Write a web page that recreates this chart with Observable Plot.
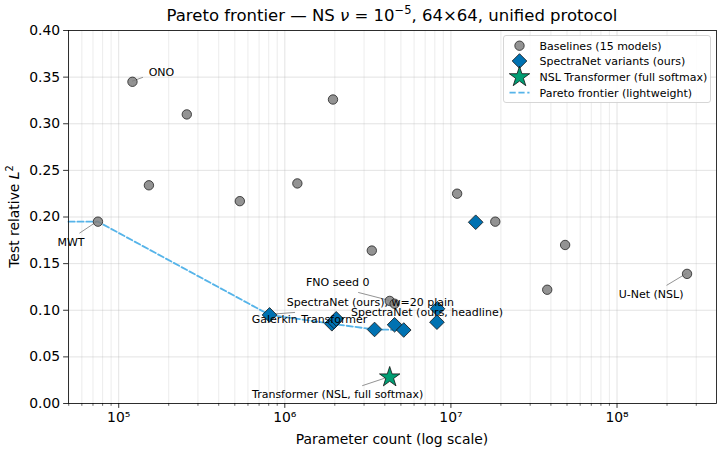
<!DOCTYPE html>
<html>
<head>
<meta charset="utf-8">
<script src="https://cdn.jsdelivr.net/npm/d3@7"></script>
<script src="https://cdn.jsdelivr.net/npm/@observablehq/plot@0.6"></script>
<style>
  html, body { margin: 0; padding: 0; background: #fff; }
  svg { display: block; }
</style>
</head>
<body>
<div id="chart"></div>
<script>
// Baseline models: parameter count and test relative L2 error
const baselineParams = [7.5e4, 1.21e5, 1.52e5, 2.57e5, 5.36e5, 1.19e6, 1.95e6, 3.34e6, 4.28e6, 4.58e6, 1.09e7, 1.85e7, 3.8e7, 4.87e7, 2.64e8];
const baselineError  = [0.195, 0.345, 0.234, 0.310, 0.217, 0.236, 0.326, 0.164, 0.110, 0.107, 0.225, 0.195, 0.122, 0.170, 0.139];

// SpectraNet variants
const spectraParams = [8.09e5, 1.92e6, 1.98e6, 2.04e6, 3.47e6, 4.58e6, 5.2e6, 8.3e6, 8.24e6, 1.41e7];
const spectraError  = [0.095, 0.0855, 0.088, 0.0908, 0.0794, 0.0844, 0.0788, 0.1016, 0.0872, 0.1944];

// NSL Transformer with full softmax attention
const transformerParams = [4.28e6];
const transformerError  = [0.0282];

// Point annotations: label, series and index of the annotated point
const annotationLabels = ["ONO", "MWT", "FNO seed 0", "SpectraNet (ours), w=20 plain", "SpectraNet (ours, headline)", "Galerkin Transformer", "U-Net (NSL)", "Transformer (NSL, full softmax)"];
const annotationSeries = ["baseline", "baseline", "baseline", "spectra", "spectra", "spectra", "baseline", "transformer"];
const annotationIndex  = [1, 0, 8, 7, 8, 0, 14, 0];

// Axis ticks
const xTickExponents = [5, 6, 7, 8];
const yTicks = [0, 0.05, 0.10, 0.15, 0.20, 0.25, 0.30, 0.35, 0.40];

// Legend entries
const legendLabels = ["Baselines (15 models)", "SpectraNet variants (ours)", "NSL Transformer (full softmax)", "Pareto frontier (lightweight)"];

// ---- layout / style (pixels) ----
// text offset [dx, dy] and leader end [lx, ly] relative to the annotated point
const labelLayout = {
  "ONO": [29, -9, 11, -4],
  "MWT": [-27, 21, -18, 12],
  "FNO seed 0": [-52, -18, -31, -8],
  "SpectraNet (ours), w=20 plain": [-67, -6, null, null],
  "SpectraNet (ours, headline)": [-10, -10, null, null],
  "Galerkin Transformer": [40, 5, 26, -2],
  "U-Net (NSL)": [-36, 21, -20, 12],
  "Transformer (NSL, full softmax)": [-52, 17, -27, 9]
};
const COLORS = { baseline: "#808080", spectra: "#0072B2", transformer: "#009E73", frontier: "#56B4E9" };
const FONT = "DejaVu Sans, Verdana, sans-serif";
const R = { baseline: 4.7, spectra: 6.6, transformer: 6.4 };
const DASH = "6.2,2.7";

const series = {
  baseline: baselineParams.map((p, i) => ({ p, e: baselineError[i] })),
  spectra: spectraParams.map((p, i) => ({ p, e: spectraError[i] })),
  transformer: transformerParams.map((p, i) => ({ p, e: transformerError[i] }))
};

// log-x domain with 5% padding on each side (in log space)
const allParams = [...baselineParams, ...spectraParams, ...transformerParams];
const lo = Math.log10(d3.min(allParams)), hi = Math.log10(d3.max(allParams));
const pad = 0.05 * (hi - lo);
const xDomain = [10 ** (lo - pad), 10 ** (hi + pad)];

// Pareto frontier over the lightweight models (baselines + SpectraNet)
const light = [...series.baseline, ...series.spectra].sort((a, b) => a.p - b.p);
let best = Infinity;
const frontier = light.filter(d => (d.e < best ? (best = d.e, true) : false));
frontier.unshift({ p: xDomain[0], e: frontier[0].e });

const majorTicks = xTickExponents.map(k => 10 ** k);
const minorTicks = [];
for (let k = 4; k <= 8; k++) for (let m = 2; m <= 9; m++) {
  const v = m * 10 ** k;
  if (v > xDomain[0] && v < xDomain[1]) minorTicks.push(v);
}
const supDigits = { "-": "⁻", "0": "⁰", "1": "¹", "2": "²", "3": "³", "4": "⁴", "5": "⁵", "6": "⁶", "7": "⁷", "8": "⁸", "9": "⁹" };
const powerLabel = v => "10" + String(Math.round(Math.log10(v))).split("").map(c => supDigits[c]).join("");

const annotations = annotationLabels.map((label, i) => ({ label, ...series[annotationSeries[i]][annotationIndex[i]] }));

const textMarks = annotations.map(a => Plot.text([a], {
  x: "p", y: "e", text: "label",
  dx: labelLayout[a.label][0], dy: labelLayout[a.label][1],
  fontSize: 11, fill: "#000", fontFamily: FONT
}));

const chart = Plot.plot({
  width: 723,
  height: 472,
  marginLeft: 68,
  marginRight: 7,
  marginTop: 30,
  marginBottom: 69,
  style: { fontFamily: FONT, fontSize: "13.9px", color: "#000", background: "#fff" },
  x: { type: "log", domain: xDomain },
  y: { domain: [0, 0.4] },
  marks: [
    Plot.gridX(minorTicks, { stroke: "#b0b0b0", strokeOpacity: 0.3, strokeWidth: 0.8 }),
    Plot.gridX(majorTicks, { stroke: "#b0b0b0", strokeOpacity: 0.45, strokeWidth: 0.8 }),
    Plot.gridY(yTicks, { stroke: "#b0b0b0", strokeOpacity: 0.45, strokeWidth: 0.8 }),
    Plot.axisX(minorTicks, { tickSize: 2.8, tickFormat: () => "", label: null, strokeWidth: 0.6 }),
    Plot.axisX(majorTicks, { tickSize: 4.9, tickPadding: 4, tickFormat: powerLabel, label: null, fontSize: 13.9, strokeWidth: 0.8 }),
    Plot.axisY(yTicks, { tickSize: 4.9, tickPadding: 3.5, tickFormat: d3.format(".2f"), label: null, fontSize: 13.9, strokeWidth: 0.8 }),
    Plot.line(frontier, { x: "p", y: "e", stroke: COLORS.frontier, strokeWidth: 1.8, strokeDasharray: DASH }),
    Plot.dot(series.baseline, { x: "p", y: "e", r: R.baseline, fill: COLORS.baseline, fillOpacity: 0.85, stroke: "#222", strokeWidth: 0.8 }),
    Plot.dot(series.spectra, { x: "p", y: "e", symbol: "diamond2", r: R.spectra, fill: COLORS.spectra, stroke: "#111", strokeWidth: 0.8 }),
    Plot.dot(series.transformer, { x: "p", y: "e", symbol: "star", r: R.transformer, fill: COLORS.transformer, stroke: "#111", strokeWidth: 0.8 }),
    ...textMarks,
    Plot.frame({ stroke: "#000", strokeWidth: 0.8 })
  ]
});

document.getElementById("chart").appendChild(chart);

const svg = d3.select(chart);
const sx = chart.scale("x"), sy = chart.scale("y");

// leader lines from annotated points toward their labels, under the markers
const leaders = svg.insert("g", "g[aria-label='dot']").attr("stroke", "#777").attr("stroke-width", 0.8);
annotations.forEach(a => {
  const [, , lx, ly] = labelLayout[a.label];
  if (lx == null) return;
  const x0 = sx.apply(a.p), y0 = sy.apply(a.e);
  leaders.append("line").attr("x1", x0).attr("y1", y0).attr("x2", x0 + lx).attr("y2", y0 + ly);
});

// title
const title = svg.append("text")
  .attr("x", (68 + 716) / 2).attr("y", 20.5)
  .attr("text-anchor", "middle").attr("font-size", 16.5).attr("font-family", FONT).attr("fill", "#000");
title.append("tspan").text("Pareto frontier — NS ");
title.append("tspan").attr("font-style", "italic").text("ν");
title.append("tspan").text(" = 10");
title.append("tspan").attr("font-size", 11.5).attr("dy", -6.5).text("−5");
title.append("tspan").attr("dy", 6.5).text(", 64×64, unified protocol");

// axis labels
svg.append("text")
  .attr("x", (68 + 716) / 2).attr("y", 444)
  .attr("text-anchor", "middle").attr("font-size", 13.9).attr("font-family", FONT).attr("fill", "#000")
  .text("Parameter count (log scale)");

const ylab = svg.append("text")
  .attr("transform", `translate(18.5, ${(30 + 403) / 2}) rotate(-90)`)
  .attr("text-anchor", "middle").attr("font-size", 13.9).attr("font-family", FONT).attr("fill", "#000");
ylab.append("tspan").text("Test relative ");
ylab.append("tspan").attr("font-style", "italic").text("L");
ylab.append("tspan").attr("font-size", 9.7).attr("dy", -5.5).text("2");

// legend
const lg = svg.append("g").attr("font-family", FONT).attr("font-size", 11).attr("text-anchor", "start");
lg.append("rect").attr("x", 503.5).attr("y", 35.5).attr("width", 207).attr("height", 67).attr("rx", 2.5)
  .attr("fill", "#fff").attr("fill-opacity", 0.85).attr("stroke", "#ccc").attr("stroke-width", 0.8);
const rowY = [45.7, 61, 77, 92.7];
const mx = 519.5, tx = 539.5;
lg.append("path").attr("transform", `translate(${mx},${rowY[0]})`)
  .attr("d", d3.symbol(d3.symbolCircle, Math.PI * R.baseline * R.baseline)())
  .attr("fill", COLORS.baseline).attr("fill-opacity", 0.85).attr("stroke", "#222").attr("stroke-width", 0.8);
lg.append("path").attr("transform", `translate(${mx},${rowY[1]})`)
  .attr("d", d3.symbol(d3.symbolDiamond2, Math.PI * R.spectra * R.spectra)())
  .attr("fill", COLORS.spectra).attr("stroke", "#111").attr("stroke-width", 0.8);
lg.append("path").attr("transform", `translate(${mx},${rowY[2]})`)
  .attr("d", d3.symbol(d3.symbolStar, Math.PI * R.transformer * R.transformer)())
  .attr("fill", COLORS.transformer).attr("stroke", "#111").attr("stroke-width", 0.8);
lg.append("line").attr("x1", mx - 10).attr("x2", mx + 10).attr("y1", rowY[3]).attr("y2", rowY[3])
  .attr("stroke", COLORS.frontier).attr("stroke-width", 1.8).attr("stroke-dasharray", DASH);
legendLabels.forEach((t, i) => {
  lg.append("text").attr("x", tx).attr("y", rowY[i]).attr("dy", "0.35em").attr("fill", "#000").attr("text-anchor", "start").text(t);
});
</script>
</body>
</html>
